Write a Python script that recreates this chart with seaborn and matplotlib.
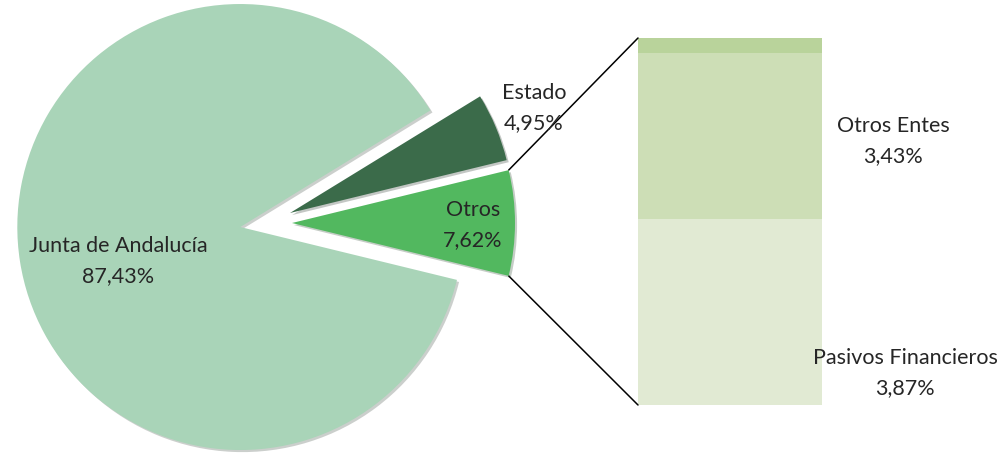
import matplotlib
matplotlib.use("Agg")
import matplotlib.pyplot as plt
from matplotlib.patches import ConnectionPatch
import numpy as np
import seaborn as sns

# pie data (counter-clockwise starting at Otros)
pie_labels = ["Otros", "Estado", "Junta de Andalucía"]
pie_values = [7.62, 4.95, 87.43]
pie_colors = ["#52b85f", "#3b6b4a", "#a9d4b8"]

# breakdown of "Otros" (bottom to top)
bar_labels = ["Pasivos Financieros", "Otros Entes", ""]
bar_values = [3.87, 3.43, 0.32]
bar_colors = ["#e1ead3", "#cddeb6", "#b9d39b"]


def fmt(v):
    return f"{v:.2f}%".replace(".", ",")


sns.set_theme(style="white")
plt.rcParams["font.family"] = ["Lato", "DejaVu Sans"]

fig = plt.figure(figsize=(10.04, 4.57), dpi=100)

# stacked bar for the Otros breakdown (kept below the text layer)
bx = fig.add_axes([638 / 1004, 52 / 457, 184 / 1004, 367 / 457])
bx.set_zorder(0)
cum = [sum(bar_values[:i + 1]) for i in range(len(bar_values))]
for i in reversed(range(len(bar_values))):
    sns.barplot(x=[0], y=[cum[i]], color=bar_colors[i], width=1,
                saturation=1, linewidth=0, ax=bx)
bx.set_xlim(-0.5, 0.5)
bx.set_ylim(0, sum(bar_values))
bx.axis("off")

# pie axes in pixel units
ax = fig.add_axes([0, 0, 1, 1])
ax.set_zorder(1)
start = -pie_values[0] / 100 * 360 / 2
wedges, _ = ax.pie(pie_values, colors=pie_colors, startangle=start,
                   counterclock=True, radius=223, center=(266, 234),
                   explode=[26] * 3, frame=False,
                   wedgeprops={"linewidth": 0},
                   shadow={"ox": 1.5, "oy": -1.5, "alpha": 0.25})
ax.set_xlim(0, 1004)
ax.set_ylim(0, 457)
ax.set_aspect("auto")
ax.axis("off")

txt = dict(fontsize=15.5, color="#262626", ha="center", va="center",
           linespacing=1.68)
ax.text(118, 457 - 261, f"{pie_labels[2]}\n{fmt(pie_values[2])}", **txt)
ax.text(534, 457 - 108, f"{pie_labels[1]}\n{fmt(pie_values[1])}", **txt)
ax.text(473, 457 - 225, f"{pie_labels[0]}\n{fmt(pie_values[0])}", **txt)
ax.text(893, 457 - 141, f"{bar_labels[1]}\n{fmt(bar_values[1])}", **txt)
ax.text(905, 457 - 373, f"{bar_labels[0]}\n{fmt(bar_values[0])}", **txt)

# connector lines from Otros wedge to bar
w = wedges[0]
cx, cy = w.center
for theta, yb in [(w.theta2, sum(bar_values)), (w.theta1, 0)]:
    xp = cx + w.r * np.cos(np.radians(theta))
    yp = cy + w.r * np.sin(np.radians(theta))
    con = ConnectionPatch(xyA=(xp, yp), coordsA=ax.transData,
                          xyB=(-0.5, yb), coordsB=bx.transData,
                          color="black", lw=1.1)
    fig.add_artist(con)

fig.savefig("out.png", dpi=100)
